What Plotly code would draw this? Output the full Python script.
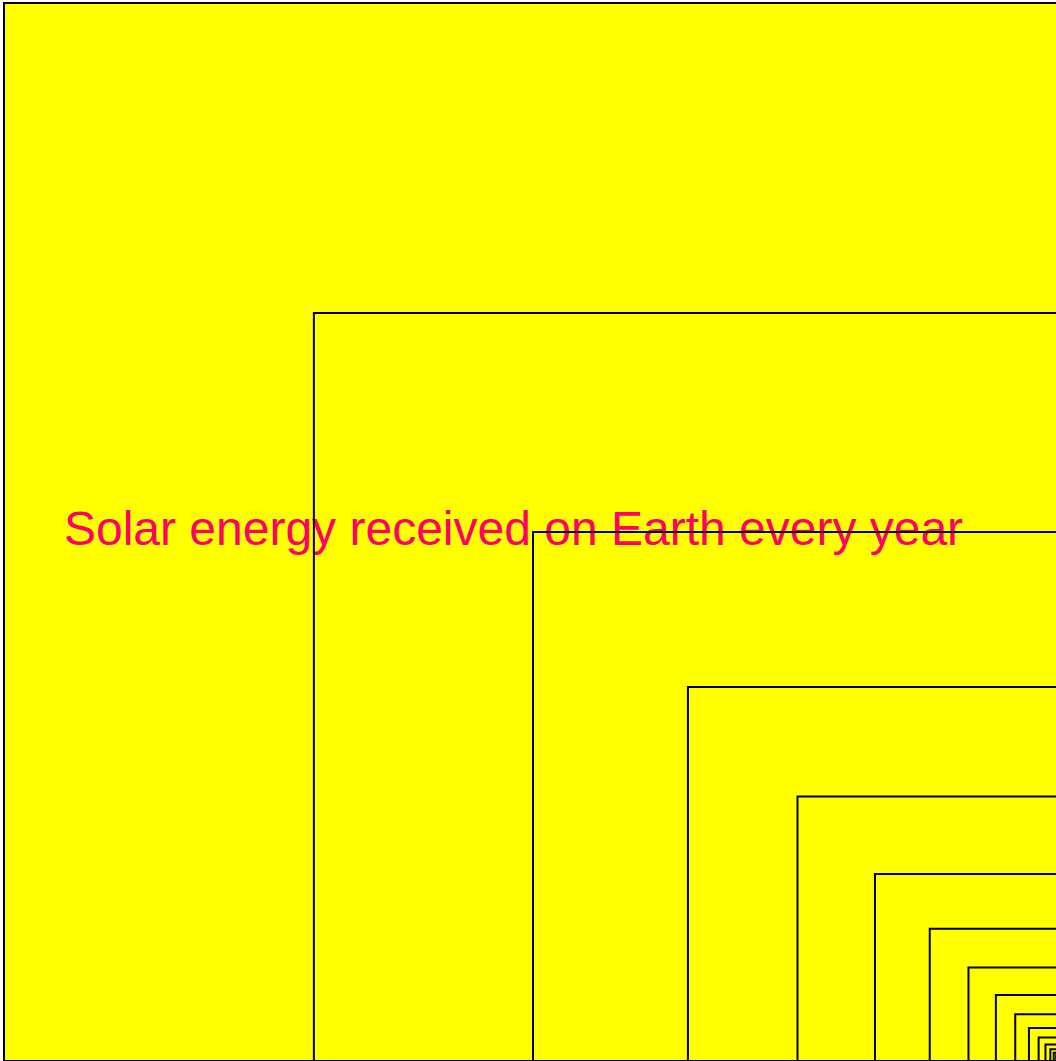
import plotly.graph_objects as go

# Relative areas of the nested squares (each half of the previous one)
square_areas = [1.0, 0.5, 0.25, 0.125, 0.0625, 0.03125, 0.015625, 0.0078125,
                0.00390625, 0.001953125, 0.0009765625, 0.00048828125,
                0.000244140625, 0.0001220703125, 0.00006103515625,
                0.000030517578125]
label_text = "Solar energy received on Earth every year"

W, H = 1056, 1061
side_px = 1058.0          # pixel length of the outer square
left_px, top_px = 4.0, 3.0

# axis ranges so that the outer square spans pixels [4, 1062] x [3, 1061]
x_min = -left_px / side_px
x_max = x_min + W / side_px
y_max = (top_px + side_px) / side_px     # top of the plot area
y_min = y_max - H / side_px

fig = go.Figure()

# label as a text trace so the square outlines are drawn on top of it
fig.add_trace(go.Scatter(
    x=[0.4816], y=[0.4995], mode="text", text=[label_text],
    textposition="middle center",
    textfont=dict(family="Liberation Sans, Arial, sans-serif", size=48, color="#FF0066"),
    hoverinfo="skip", showlegend=False,
))

shapes = []
for i, a in enumerate(square_areas):
    s = a ** 0.5
    if i == 0:
        shapes.append(dict(type="rect", xref="x", yref="y", x0=1 - s, x1=1, y0=0, y1=s,
                           fillcolor="#FFFF00", line=dict(width=0), layer="below"))
    shapes.append(dict(type="rect", xref="x", yref="y", x0=1 - s, x1=1, y0=0, y1=s,
                       fillcolor="rgba(0,0,0,0)", line=dict(color="black", width=2),
                       layer="above"))

fig.update_layout(
    width=W, height=H, autosize=False,
    margin=dict(l=0, r=0, t=0, b=0, pad=0),
    paper_bgcolor="white", plot_bgcolor="white",
    shapes=shapes,
    xaxis=dict(range=[x_min, x_max], visible=False, fixedrange=True),
    yaxis=dict(range=[y_min, y_max], visible=False, fixedrange=True),
    showlegend=False,
)

fig.write_html(
    "out.html",
    config={"displayModeBar": False},
    post_script="document.body.style.margin='0';document.body.style.overflow='hidden';",
)
